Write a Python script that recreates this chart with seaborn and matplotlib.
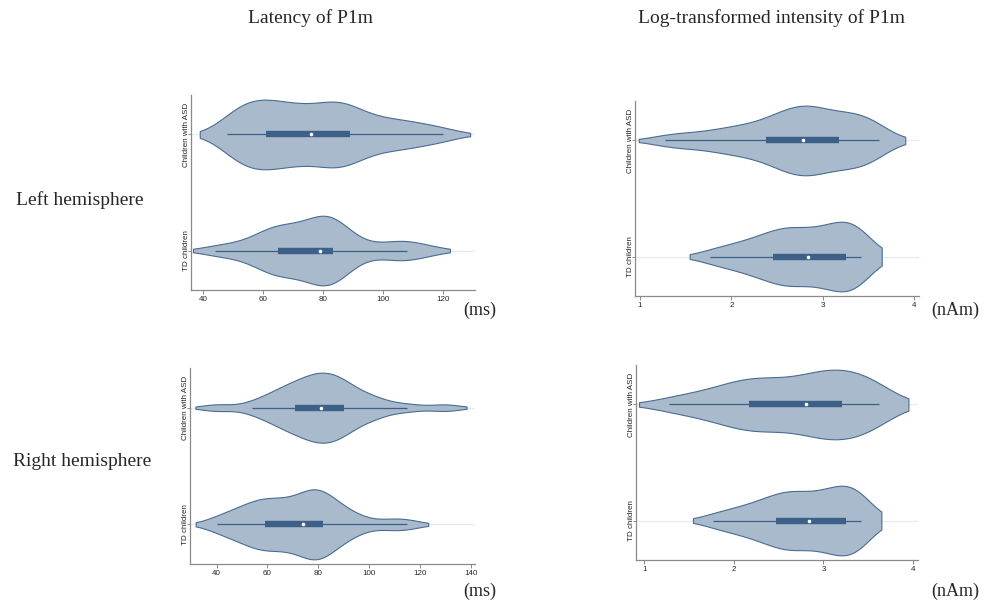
import numpy as np
import pandas as pd
import matplotlib
matplotlib.use("Agg")
import matplotlib.pyplot as plt
import seaborn as sns

# ---- data ----
groups = ["Children with ASD", "TD children"]

latency_left_asd = [48, 50, 52, 54, 56, 57.5, 59, 60.5, 62.5, 64.5, 66.5, 68.5, 70.5,
                    72.5, 74.5, 77.5, 79.5, 81.5, 83.5, 85.5, 86.5, 88, 89.3, 93, 96,
                    100, 104, 108, 113, 120]
latency_left_td = [44, 50, 56, 60, 62, 63, 64, 64.4, 66.8, 69, 71, 72.5, 74, 75.5,
                   77.5, 80.5, 81, 81.5, 82, 82.3, 82.6, 82.9, 83.3, 86, 89, 94, 103,
                   106, 108, 115]
intensity_left_asd = [1.27, 1.5, 1.72, 1.9, 2.02, 2.13, 2.24, 2.36, 2.44, 2.5, 2.56,
                      2.62, 2.67, 2.72, 2.77, 2.81, 2.85, 2.89, 2.93, 2.98, 3.06, 3.13,
                      3.2, 3.26, 3.32, 3.38, 3.44, 3.5, 3.56, 3.62]
intensity_left_td = [1.77, 1.92, 2.05, 2.16, 2.25, 2.33, 2.39, 2.44, 2.52, 2.58, 2.62,
                     2.65, 2.68, 2.72, 2.78, 2.9, 2.96, 3.0, 3.03, 3.06, 3.1, 3.2, 3.27,
                     3.29, 3.31, 3.33, 3.35, 3.37, 3.4, 3.42]
latency_right_asd = [40, 54, 59, 62.5, 65, 67, 68.5, 70.5, 72.5, 74, 75.5, 77, 78.2,
                     79.2, 80.3, 81.7, 83, 84.3, 85.6, 86.8, 88, 89.2, 90.3, 92.5, 95,
                     98, 101.5, 105, 115, 130]
latency_right_td = [40, 44, 48, 51, 53.5, 55.5, 57, 58.5, 60.5, 62.5, 64.5, 66.5, 68.5,
                    70.5, 72.5, 75.5, 76.5, 77.5, 78.5, 79.5, 80.3, 81.2, 81.9, 84, 86.5,
                    89, 92, 96, 108, 115]
intensity_right_asd = [1.27, 1.48, 1.66, 1.82, 1.94, 2.03, 2.1, 2.15, 2.23, 2.31, 2.39,
                       2.47, 2.55, 2.63, 2.73, 2.87, 2.92, 2.96, 3.0, 3.04, 3.08, 3.15,
                       3.23, 3.3, 3.36, 3.42, 3.48, 3.53, 3.58, 3.62]
intensity_right_td = [1.77, 1.92, 2.05, 2.16, 2.25, 2.33, 2.39, 2.45, 2.52, 2.58, 2.62,
                      2.65, 2.68, 2.72, 2.78, 2.9, 2.96, 3.0, 3.03, 3.06, 3.1, 3.2, 3.27,
                      3.29, 3.31, 3.33, 3.35, 3.37, 3.4, 3.42]

latency_ticks = [40, 60, 80, 100, 120]
latency_ticks_right = [40, 60, 80, 100, 120, 140]
intensity_ticks = [1, 2, 3, 4]

col_titles = ["Latency of P1m", "Log-transformed intensity of P1m"]
row_titles = ["Left hemisphere", "Right hemisphere"]
units = ["(ms)", "(nAm)"]

# ---- style ----
sns.set_theme(style="white")
plt.rcParams["font.family"] = ["Liberation Sans", "DejaVu Sans"]

FILL = "#a8bacb"
EDGE = "#4a6c92"
BOX = "#3d6088"
GRID = "#e4edf1"
SPINE = "#8a8a8a"

W, H = 989, 600
fig = plt.figure(figsize=(W / 100, H / 100), dpi=100)


def px_axes(left, top, right, bottom):
    return fig.add_axes([left / W, 1 - bottom / H, (right - left) / W, (bottom - top) / H])


# (axes, asd, td, xlim, ticks, kde settings per group: (bw_adjust, cut))
panels = [
    (px_axes(191, 95, 475, 290), latency_left_asd, latency_left_td, (36, 130.7),
     latency_ticks, [(0.65, 1.4), (0.75, 1.15)]),
    (px_axes(635, 101, 919, 296), intensity_left_asd, intensity_left_td, (0.945, 4.055),
     intensity_ticks, [(0.7, 1.3), (0.85, 1.1)]),
    (px_axes(190, 368, 475, 564), latency_right_asd, latency_right_td, (29.5, 141.7),
     latency_ticks_right, [(0.65, 1.4), (0.7, 1.3)]),
    (px_axes(636, 365, 918, 560), intensity_right_asd, intensity_right_td, (0.907, 4.056),
     intensity_ticks, [(0.85, 1.15), (0.85, 1.1)]),
]

for ax, asd, td, xlim, ticks, kde in panels:
    df = pd.DataFrame({
        "value": list(asd) + list(td),
        "group": [groups[0]] * len(asd) + [groups[1]] * len(td),
    })
    for g, (bwa, cut) in zip(groups, kde):
        sns.violinplot(
            data=df[df["group"] == g], x="value", y="group", order=groups, orient="h",
            ax=ax, color=FILL, saturation=1, linecolor=EDGE, linewidth=0.8,
            width=0.6, density_norm="width", cut=cut, bw_adjust=bwa,
            inner="box", inner_kws=dict(box_width=4.6, whis_width=0.9, marker="o"),
        )
    for ln in ax.lines:
        if ln.get_marker() == "o":
            ln.set_markersize(2.6)
            ln.set_markerfacecolor("white")
            ln.set_markeredgewidth(0)
            ln.set_zorder(6)
        else:
            ln.set_solid_capstyle("butt")
            ln.set_color(BOX)
    for i, _ in enumerate(groups):
        ax.axhline(i, color=GRID, lw=1.0, zorder=0)
    ax.set_xlim(*xlim)
    ax.set_ylim(1.34, -0.34)
    ax.set_xticks(ticks)
    ax.set_xlabel("")
    ax.set_ylabel("")
    for s in ["top", "right"]:
        ax.spines[s].set_visible(False)
    for s in ["left", "bottom"]:
        ax.spines[s].set_color(SPINE)
        ax.spines[s].set_linewidth(0.9)
    ax.tick_params(axis="x", labelsize=5.8, length=3, width=0.7, color=SPINE, pad=1.5,
                   direction="out", bottom=True)
    ax.tick_params(axis="y", labelsize=5.8, length=2, width=0.7, color=SPINE, pad=1.5,
                   direction="out", left=True)
    for lab in ax.get_yticklabels():
        lab.set_rotation(90)
        lab.set_va("center")
        lab.set_ha("center")
    ax.set_facecolor("white")

serif = ["Liberation Serif", "DejaVu Serif"]
fig.text(311 / W, 1 - 18 / H, col_titles[0], ha="center", va="center", fontsize=14, family=serif)
fig.text(771 / W, 1 - 18 / H, col_titles[1], ha="center", va="center", fontsize=14, family=serif)
fig.text(80 / W, 1 - 200 / H, row_titles[0], ha="center", va="center", fontsize=14, family=serif)
fig.text(82 / W, 1 - 462 / H, row_titles[1], ha="center", va="center", fontsize=14, family=serif)
fig.text(480 / W, 1 - 310 / H, units[0], ha="center", va="center", fontsize=13, family=serif)
fig.text(955 / W, 1 - 310 / H, units[1], ha="center", va="center", fontsize=13, family=serif)
fig.text(480 / W, 1 - 591 / H, units[0], ha="center", va="center", fontsize=13, family=serif)
fig.text(955 / W, 1 - 591 / H, units[1], ha="center", va="center", fontsize=13, family=serif)

fig.savefig("out.png", dpi=100, facecolor="white")
